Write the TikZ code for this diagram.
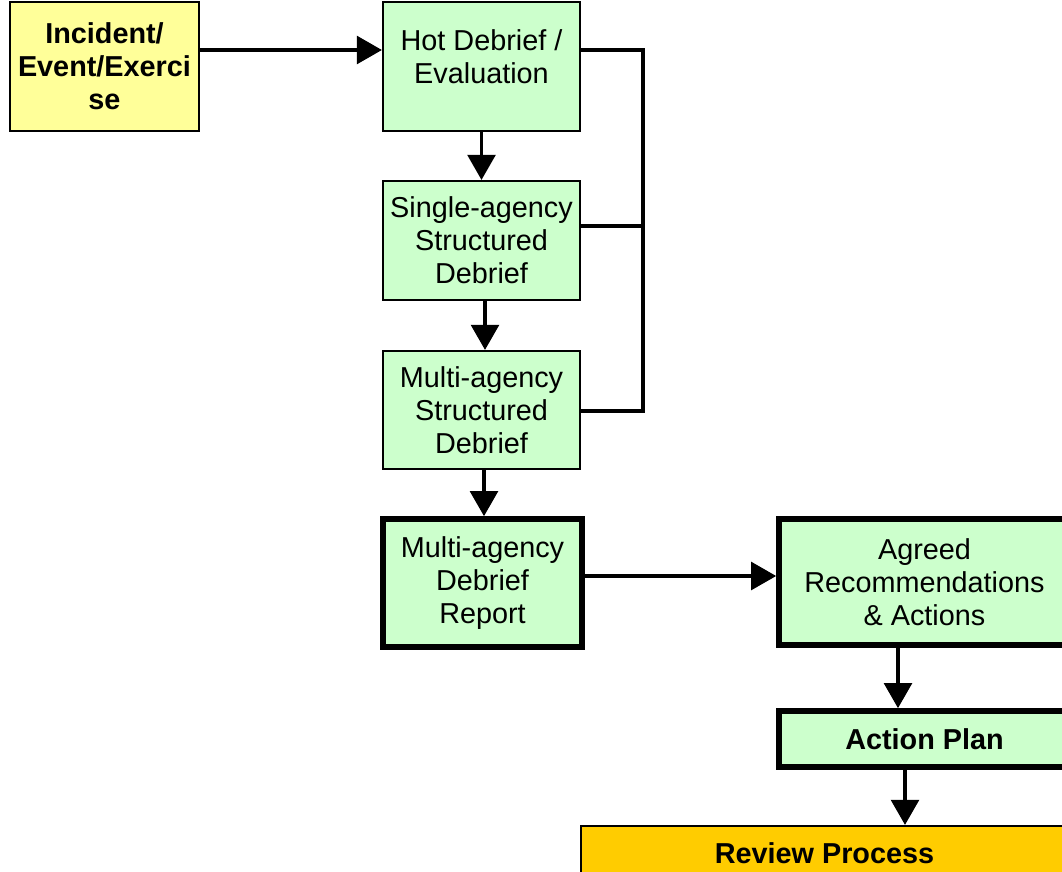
\documentclass[tikz,border=0pt]{standalone}
\usepackage{fontspec}
\setmainfont{Liberation Sans}
\usepackage{tikz}
\usetikzlibrary{arrows.meta}
\usetikzlibrary{positioning}
\definecolor{boxgreen}{HTML}{CCFFCC}
\definecolor{boxyellow}{HTML}{FFFF99}
\definecolor{boxorange}{HTML}{FFCC00}
\tikzstyle{stage}=[draw=black, line width=1.2pt, fill=boxgreen, align=center, inner sep=0pt,
    font=\fontsize{16.4}{18.7}\selectfont]
\tikzstyle{stage_key}=[stage, line width=3.2pt]
\tikzstyle{flow}=[line width=2.2pt, -{Triangle[length=0.5cm,width=0.55cm]}]
\tikzstyle{link}=[line width=2pt]

\begin{document}
\begin{tikzpicture}[x=0.02cm, y=-0.02cm]
\useasboundingbox (0,0) rectangle (1062,872);
\clip (0,0) rectangle (1062,872);
\node[stage, fill=boxyellow, font=\fontsize{16.4}{18.7}\selectfont\bfseries,
      minimum width=3.78cm, minimum height=2.58cm] (inc) at (104.5,66.5){Incident/\\Event/Exerci\\se};
\node[stage, minimum width=3.94cm, minimum height=2.58cm] (hot) at (481.5,66.5){Hot Debrief /\\Evaluation\\[-7pt]\mbox{}};
\node[stage, minimum width=3.94cm, minimum height=2.38cm] (single) at (481.5,240.5){Single-agency\\Structured\\Debrief};
\node[stage, minimum width=3.94cm, minimum height=2.36cm] (multi) at (481.5,410){Multi-agency\\Structured\\Debrief};
\node[stage_key, minimum width=3.98cm, minimum height=2.56cm] (report) at (482.5,583){Multi-agency\\Debrief\\Report};
\node[stage_key, minimum width=5.82cm, minimum height=2.52cm] (agreed) at (924.5,582){Agreed\\Recommendations\\\& Actions};
\node[stage_key, font=\fontsize{16.4}{18.7}\selectfont\bfseries,
      minimum width=5.82cm, minimum height=1.12cm] (action) at (924.5,739){Action Plan};
\node[stage, fill=boxorange, font=\fontsize{16.4}{18.7}\selectfont\bfseries,
      minimum width=9.74cm, minimum height=1.08cm] (review) at (824.5,853){Review Process};
\coordinate (bartop) at (643,50);
\coordinate (barmid) at (643,226);
\coordinate (barbot) at (643,411);
\draw[flow](inc.east |- bartop) -- (hot.west |- bartop);
\draw[flow](hot.south) -- (single.north);
\draw[flow](single.south -| 485,0) -- (multi.north -| 485,0);
\draw[flow](multi.south -| 484,0) -- (report.north -| 484,0);
\draw[flow](report.east |- 0,576) -- (agreed.west |- 0,576);
\draw[flow](agreed.south -| 898,0) -- (action.north -| 898,0);
\draw[flow](action.south -| 905,0) -- (review.north -| 905,0);
\draw[link](hot.east |- bartop) -- (bartop) -- (barbot) -- (multi.east |- barbot);
\draw[link](single.east |- barmid) -- (barmid);
\end{tikzpicture}
\end{document}
